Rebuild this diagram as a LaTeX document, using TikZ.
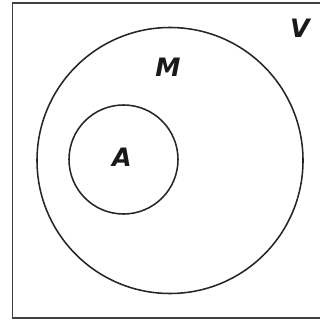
\documentclass[tikz,border=0pt]{standalone}
\usepackage{fontspec}
\setmainfont{DejaVu Sans}
\usetikzlibrary{positioning}

\begin{document}
\begin{tikzpicture}[
		x=0.025cm, y=-0.025cm,
		% Style for the universe box and the sets
		universe/.style={draw=black!75, line width=1.4pt},
		setcircle/.style={circle, draw=black!85, line width=1.1pt, inner sep=0pt},
		% Style for the set labels
		setlabel/.style={font=\fontsize{18}{18}\selectfont\bfseries\itshape, text=black!90, inner sep=0pt}
		]
		
		% --- 1. Frame ---
		\clip (0, 0) rectangle (320, 320);
		\draw[universe] (12.5, 3) rectangle (340, 318);
		
		% --- 2. The sets ---
		\node[setcircle, minimum size=266*0.025cm] (setM) at (170, 160.5) {};
		\node[setcircle, minimum size=109*0.025cm] (setA) at (123.5, 159.5) {};
		
		% --- 3. Labels ---
		\node[setlabel] (lblV) at (300, 28) {V};
		\node[setlabel] (lblM) at (168, 67) {M};
		\node[setlabel] (lblA) at (122, 157) {A};
		
	\end{tikzpicture}
\end{document}
